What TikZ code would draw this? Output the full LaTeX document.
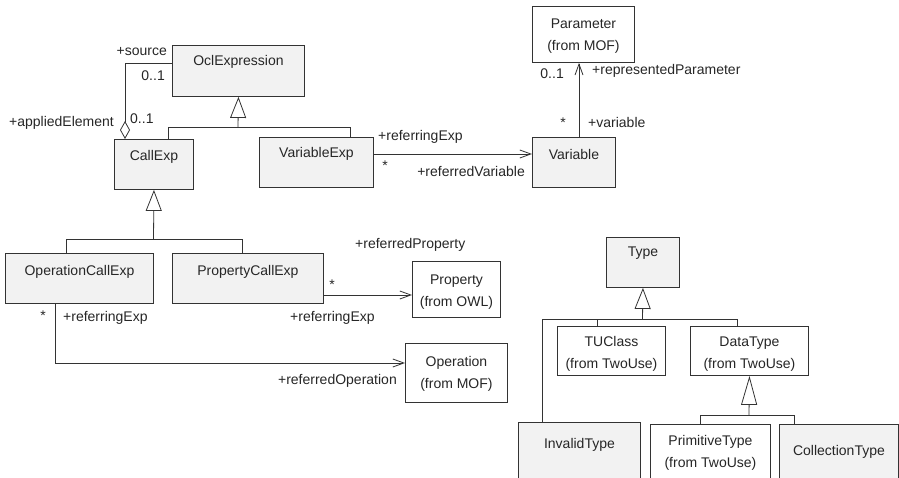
\documentclass[tikz,border=0pt]{standalone}
\usepackage{fontspec}
\setmainfont{Liberation Sans}
\usetikzlibrary{arrows.meta,calc}
\definecolor{boxgray}{HTML}{F2F2F2}
\definecolor{linec}{HTML}{333333}
\begin{document}
\begin{tikzpicture}[x=1pt,y=-1pt,
  cls/.style={draw=linec, line width=0.9pt, inner sep=0pt, anchor=north west},
  gcls/.style={cls, fill=boxgray},
  wcls/.style={cls, fill=white},
  txt/.style={font=\fontsize{14}{22}\selectfont, inner sep=0pt, align=center, text=black!85},
  lbl/.style={font=\fontsize{14}{17}\selectfont, inner sep=0pt, text=black!85},
  conn/.style={draw=linec, line width=0.8pt},
  gentri/.style={conn, -{Triangle[length=21pt,width=16pt,fill=white,line width=0.8pt]}},
  gentril/.style={conn, -{Triangle[length=29pt,width=16pt,fill=white,line width=0.8pt]}},
  nav/.style={conn, -{Straight Barb[length=11pt,width=8pt,line width=0.8pt]}},
  agg/.style={conn, {Diamond[open,length=18pt,width=10pt,line width=0.8pt]}-}
]
\useasboundingbox (0,0) rectangle (899,478);
\clip (0,0) rectangle (899,478);

% boxes
\node[gcls, minimum width=132pt, minimum height=51pt] (ocl) at (172,45) {};
\node[txt] at ($(ocl.north)+(0,17)$) {OclExpression};
\node[gcls, minimum width=79pt, minimum height=50pt] (call) at (114,139) {};
\node[txt] at ($(call.north)+(0,18)$) {CallExp};
\node[gcls, minimum width=114pt, minimum height=50pt] (varexp) at (259,137) {};
\node[txt] at ($(varexp.north)+(0,17)$) {VariableExp};
\node[gcls, minimum width=83pt, minimum height=50pt] (variable) at (532,137) {};
\node[txt] at ($(variable.north)+(0,17)$) {Variable};
\node[wcls, minimum width=102pt, minimum height=56pt] (param) at (532,6) {};
\node[txt] at ($(param.center)+(0,1.5)$) {Parameter\\(from MOF)};

\node[gcls, minimum width=148pt, minimum height=50pt] (opcall) at (5,253) {};
\node[txt] at ($(opcall.north)+(0,19)$) {OperationCallExp};
\node[gcls, minimum width=151pt, minimum height=50pt] (propcall) at (172,253) {};
\node[txt] at ($(propcall.north)+(0,19)$) {PropertyCallExp};
\node[wcls, minimum width=88pt, minimum height=56pt] (property) at (412,261) {};
\node[txt] at ($(property.center)+(0,2.5)$) {Property\\(from OWL)};
\node[wcls, minimum width=102pt, minimum height=59pt] (operation) at (405,343) {};
\node[txt] at ($(operation.center)+(0,1)$) {Operation\\(from MOF)};

\node[gcls, minimum width=73pt, minimum height=50pt] (type) at (606,237) {};
\node[txt] at ($(type.north)+(0,16)$) {Type};
\node[wcls, minimum width=108pt, minimum height=49pt] (tuclass) at (557,326) {};
\node[txt] at ($(tuclass.center)+(0,3)$) {TUClass\\(from TwoUse)};
\node[wcls, minimum width=118pt, minimum height=49pt] (datatype) at (690,326) {};
\node[txt] at ($(datatype.center)+(0,3)$) {DataType\\(from TwoUse)};
\node[gcls, minimum width=122pt, minimum height=70pt] (invalid) at (518,422) {};
\node[txt] at ($(invalid.north)+(0,23)$) {InvalidType};
\node[wcls, minimum width=120pt, minimum height=70pt] (primitive) at (650,424) {};
\node[txt] at ($(primitive.north)+(0,29)$) {PrimitiveType\\(from TwoUse)};
\node[gcls, minimum width=119pt, minimum height=70pt] (collection) at (779,424) {};
\node[txt] at ($(collection.north)+(0,28)$) {CollectionType};

% generalizations
\coordinate (j1) at (238,127);
\coordinate (j1l) at (168,127);
\coordinate (j1r) at (350,127);
\draw[gentri] (j1) -- (ocl.south);
\draw[conn] (j1l |- call.north) -- (j1l) -- (j1r) -- (j1r |- varexp.north);

\coordinate (j2) at (153.5,239);
\coordinate (j2l) at (66,239);
\coordinate (j2r) at (242,239);
\draw[gentri] (j2) -- (call.south);
\draw[conn] (j2l |- opcall.north) -- (j2l) -- (j2r) -- (j2r |- propcall.north);

\coordinate (j3) at (642.5,319);
\coordinate (j3l) at (542,319);
\coordinate (j3a) at (597,319);
\coordinate (j3r) at (737,319);
\draw[gentri] (j3) -- (type.south);
\draw[conn] (j3l |- invalid.north) -- (j3l) -- (j3r) -- (j3r |- datatype.north);
\draw[conn] (j3a) -- (j3a |- tuclass.north);

\coordinate (j4) at (749,415);
\coordinate (j4l) at (700,415);
\coordinate (j4r) at (794,415);
\draw[gentril] (j4) -- (datatype.south);
\draw[conn] (j4l |- primitive.north) -- (j4l) -- (j4r) -- (j4r |- collection.north);

% associations
\coordinate (ag) at (125,63);
\draw[agg] (ag |- call.north) -- (ag) -- (ag -| ocl.west);
\coordinate (a1) at (0,154);
\draw[nav] (varexp.east |- a1) -- (variable.west |- a1);
\coordinate (a2) at (579,0);
\draw[nav] (a2 |- variable.north) -- (a2 |- param.south);
\coordinate (a3) at (0,295);
\draw[nav] (propcall.east |- a3) -- (property.west |- a3);
\coordinate (a4) at (55,363);
\draw[nav] (a4 |- opcall.south) -- (a4) -- (operation.west |- a4);

% labels
\node[lbl, anchor=east] at (167,52) {+source};
\node[lbl, anchor=east] at (165,76) {0..1};
\node[lbl, anchor=east] at (114,123) {+appliedElement};
\node[lbl, anchor=west] at (130,119) {0..1};
\node[lbl, anchor=west] at (378,137) {+referringExp};
\node[lbl, anchor=base] at (385,171) {*};
\node[lbl, anchor=east] at (525,171) {+referredVariable};
\node[lbl, anchor=east] at (564,74) {0..1};
\node[lbl, anchor=west] at (592,71) {+representedParameter};
\node[lbl, anchor=base] at (563,128) {*};
\node[lbl, anchor=west] at (588,122) {+variable};
\node[lbl, anchor=west] at (355,245) {+referredProperty};
\node[lbl, anchor=base] at (332,290) {*};
\node[lbl, anchor=west] at (290,318) {+referringExp};
\node[lbl, anchor=base] at (43,320) {*};
\node[lbl, anchor=west] at (63,318) {+referringExp};
\node[lbl, anchor=east] at (397,381) {+referredOperation};
\end{tikzpicture}
\end{document}
